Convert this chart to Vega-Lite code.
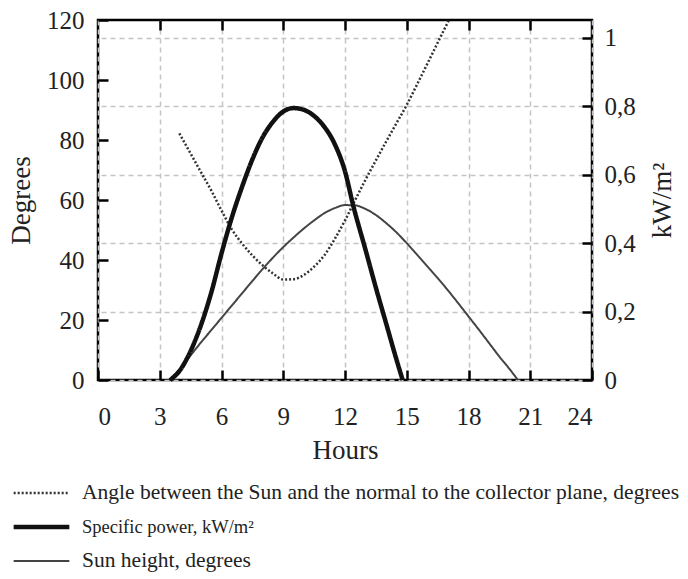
{
  "$schema": "https://vega.github.io/schema/vega-lite/v6.json",
  "autosize": "none",
  "width": 494,
  "height": 360,
  "padding": {"left": 98, "top": 20, "right": 96, "bottom": 199},
  "background": "white",
  "config": {
    "font": "Liberation Serif",
    "view": {"stroke": "black", "strokeWidth": 2.5},
    "axis": {
      "domain": false,
      "labelFont": "Liberation Serif",
      "titleFont": "Liberation Serif",
      "labelColor": "#222",
      "titleColor": "#222",
      "titleFontWeight": "normal",
      "labelFontSize": 25,
      "titleFontSize": 27,
      "tickColor": "black",
      "tickWidth": 2.5,
      "tickSize": -10,
      "gridColor": "#c4c4c4",
      "gridDash": [5, 4],
      "gridWidth": 1.5
    },
    "legend": {
      "labelFont": "Liberation Serif",
      "labelFontSize": 21.5,
      "labelColor": "#222"
    }
  },
  "datasets": {
    "curves": [
      {"h": 3.95, "series": "Angle between the Sun and the normal to the collector plane, degrees", "v": 82.2},
      {"h": 4.5, "series": "Angle between the Sun and the normal to the collector plane, degrees", "v": 75.5},
      {"h": 5.0, "series": "Angle between the Sun and the normal to the collector plane, degrees", "v": 69.3},
      {"h": 5.5, "series": "Angle between the Sun and the normal to the collector plane, degrees", "v": 63.2},
      {"h": 6.0, "series": "Angle between the Sun and the normal to the collector plane, degrees", "v": 56.5},
      {"h": 6.5, "series": "Angle between the Sun and the normal to the collector plane, degrees", "v": 50.2},
      {"h": 7.0, "series": "Angle between the Sun and the normal to the collector plane, degrees", "v": 45.5},
      {"h": 7.5, "series": "Angle between the Sun and the normal to the collector plane, degrees", "v": 41.5},
      {"h": 8.0, "series": "Angle between the Sun and the normal to the collector plane, degrees", "v": 38.2},
      {"h": 8.5, "series": "Angle between the Sun and the normal to the collector plane, degrees", "v": 35.5},
      {"h": 9.0, "series": "Angle between the Sun and the normal to the collector plane, degrees", "v": 33.5},
      {"h": 9.5, "series": "Angle between the Sun and the normal to the collector plane, degrees", "v": 33.6},
      {"h": 10.0, "series": "Angle between the Sun and the normal to the collector plane, degrees", "v": 35.0},
      {"h": 10.5, "series": "Angle between the Sun and the normal to the collector plane, degrees", "v": 37.8},
      {"h": 11.0, "series": "Angle between the Sun and the normal to the collector plane, degrees", "v": 41.6},
      {"h": 11.5, "series": "Angle between the Sun and the normal to the collector plane, degrees", "v": 47.0},
      {"h": 12.0, "series": "Angle between the Sun and the normal to the collector plane, degrees", "v": 53.2},
      {"h": 12.5, "series": "Angle between the Sun and the normal to the collector plane, degrees", "v": 60.1},
      {"h": 13.0, "series": "Angle between the Sun and the normal to the collector plane, degrees", "v": 66.8},
      {"h": 13.5, "series": "Angle between the Sun and the normal to the collector plane, degrees", "v": 73.2},
      {"h": 14.0, "series": "Angle between the Sun and the normal to the collector plane, degrees", "v": 79.5},
      {"h": 14.5, "series": "Angle between the Sun and the normal to the collector plane, degrees", "v": 85.6},
      {"h": 15.0, "series": "Angle between the Sun and the normal to the collector plane, degrees", "v": 91.7},
      {"h": 15.5, "series": "Angle between the Sun and the normal to the collector plane, degrees", "v": 98.5},
      {"h": 16.0, "series": "Angle between the Sun and the normal to the collector plane, degrees", "v": 105.4},
      {"h": 16.5, "series": "Angle between the Sun and the normal to the collector plane, degrees", "v": 112.4},
      {"h": 17.05, "series": "Angle between the Sun and the normal to the collector plane, degrees", "v": 120.0},
      {"h": 3.5, "series": "Sun height, degrees", "v": 0},
      {"h": 4.0, "series": "Sun height, degrees", "v": 3.8},
      {"h": 4.5, "series": "Sun height, degrees", "v": 8.2},
      {"h": 5.0, "series": "Sun height, degrees", "v": 12.5},
      {"h": 5.5, "series": "Sun height, degrees", "v": 16.6},
      {"h": 6.0, "series": "Sun height, degrees", "v": 20.7},
      {"h": 6.5, "series": "Sun height, degrees", "v": 24.8},
      {"h": 7.0, "series": "Sun height, degrees", "v": 28.9},
      {"h": 7.5, "series": "Sun height, degrees", "v": 33.0},
      {"h": 8.0, "series": "Sun height, degrees", "v": 37.0},
      {"h": 8.5, "series": "Sun height, degrees", "v": 40.8},
      {"h": 9.0, "series": "Sun height, degrees", "v": 44.3},
      {"h": 9.5, "series": "Sun height, degrees", "v": 47.5},
      {"h": 10.0, "series": "Sun height, degrees", "v": 50.5},
      {"h": 10.5, "series": "Sun height, degrees", "v": 53.2},
      {"h": 11.0, "series": "Sun height, degrees", "v": 55.6},
      {"h": 11.5, "series": "Sun height, degrees", "v": 57.3},
      {"h": 12.0, "series": "Sun height, degrees", "v": 58.3},
      {"h": 12.5, "series": "Sun height, degrees", "v": 58.2},
      {"h": 13.0, "series": "Sun height, degrees", "v": 57.0},
      {"h": 13.5, "series": "Sun height, degrees", "v": 55.0},
      {"h": 14.0, "series": "Sun height, degrees", "v": 52.3},
      {"h": 14.5, "series": "Sun height, degrees", "v": 49.2},
      {"h": 15.0, "series": "Sun height, degrees", "v": 45.6},
      {"h": 15.5, "series": "Sun height, degrees", "v": 41.8},
      {"h": 16.0, "series": "Sun height, degrees", "v": 37.9},
      {"h": 16.5, "series": "Sun height, degrees", "v": 34.0},
      {"h": 17.0, "series": "Sun height, degrees", "v": 29.9},
      {"h": 17.5, "series": "Sun height, degrees", "v": 25.6},
      {"h": 18.0, "series": "Sun height, degrees", "v": 21.2},
      {"h": 18.5, "series": "Sun height, degrees", "v": 16.8},
      {"h": 19.0, "series": "Sun height, degrees", "v": 12.3},
      {"h": 19.5, "series": "Sun height, degrees", "v": 7.8},
      {"h": 20.0, "series": "Sun height, degrees", "v": 3.6},
      {"h": 20.4, "series": "Sun height, degrees", "v": 0},
      {"h": 3.5, "series": "Specific power, kW/m²", "v": 0},
      {"h": 4.0, "series": "Specific power, kW/m²", "v": 0.03},
      {"h": 4.5, "series": "Specific power, kW/m²", "v": 0.085},
      {"h": 5.0, "series": "Specific power, kW/m²", "v": 0.16},
      {"h": 5.5, "series": "Specific power, kW/m²", "v": 0.255},
      {"h": 6.0, "series": "Specific power, kW/m²", "v": 0.37},
      {"h": 6.5, "series": "Specific power, kW/m²", "v": 0.475},
      {"h": 7.0, "series": "Specific power, kW/m²", "v": 0.565},
      {"h": 7.5, "series": "Specific power, kW/m²", "v": 0.645},
      {"h": 8.0, "series": "Specific power, kW/m²", "v": 0.71},
      {"h": 8.5, "series": "Specific power, kW/m²", "v": 0.755},
      {"h": 9.0, "series": "Specific power, kW/m²", "v": 0.785},
      {"h": 9.5, "series": "Specific power, kW/m²", "v": 0.795},
      {"h": 10.0, "series": "Specific power, kW/m²", "v": 0.79},
      {"h": 10.5, "series": "Specific power, kW/m²", "v": 0.772},
      {"h": 11.0, "series": "Specific power, kW/m²", "v": 0.74},
      {"h": 11.5, "series": "Specific power, kW/m²", "v": 0.69},
      {"h": 12.0, "series": "Specific power, kW/m²", "v": 0.61},
      {"h": 12.4, "series": "Specific power, kW/m²", "v": 0.51},
      {"h": 13.0, "series": "Specific power, kW/m²", "v": 0.38},
      {"h": 13.5, "series": "Specific power, kW/m²", "v": 0.27},
      {"h": 14.0, "series": "Specific power, kW/m²", "v": 0.165},
      {"h": 14.5, "series": "Specific power, kW/m²", "v": 0.06},
      {"h": 14.8, "series": "Specific power, kW/m²", "v": 0}
    ]
  },
  "data": {"name": "curves"},
  "layer": [
    {
      "transform": [{"filter": {"field": "series", "oneOf": ["Angle between the Sun and the normal to the collector plane, degrees", "Sun height, degrees"]}}],
      "mark": {"type": "line", "interpolate": "monotone"},
      "encoding": {
        "x": {
          "field": "h", "type": "quantitative",
          "scale": {"domain": [0, 24], "nice": false, "zero": false},
          "axis": {"orient": "bottom", "values": [0, 3, 6, 9, 12, 15, 18, 21, 24], "grid": true, "title": "Hours", "labelFont": "Liberation Serif", "labelPadding": 34, "titlePadding": 8}
        },
        "y": {
          "field": "v", "type": "quantitative",
          "scale": {"domain": [0, 120], "nice": false},
          "axis": {"orient": "left", "values": [0, 20, 40, 60, 80, 100, 120], "grid": false, "title": "Degrees", "labelFont": "Liberation Serif", "labelPadding": 24, "titlePadding": 11}
        },
        "color": {
          "field": "series", "type": "nominal",
          "scale": {"domain": ["Angle between the Sun and the normal to the collector plane, degrees", "Specific power, kW/m²", "Sun height, degrees"], "range": ["#333333", "#111111", "#444444"]},
          "legend": {"orient": "none", "legendX": -87, "legendY": 462, "title": null, "symbolType": "stroke", "symbolSize": 3100, "clipHeight": 22, "labelLimit": 700, "rowPadding": 12, "labelOffset": 10, "padding": 0,
                     "encode": {"labels": {"update": {"fontSize": {"signal": "datum.label == 'Specific power, kW/m²' ? 18.5 : 21.5"}}}}}
        },
        "strokeDash": {
          "field": "series", "type": "nominal",
          "scale": {"domain": ["Angle between the Sun and the normal to the collector plane, degrees", "Specific power, kW/m²", "Sun height, degrees"], "range": [[2, 2], [1, 0], [1, 0]]}
        },
        "strokeWidth": {
          "field": "series", "type": "nominal",
          "scale": {"type": "ordinal", "domain": ["Angle between the Sun and the normal to the collector plane, degrees", "Specific power, kW/m²", "Sun height, degrees"], "range": [2.5, 4.5, 2]}
        }
      }
    },
    {
      "transform": [{"filter": {"field": "series", "equal": "Specific power, kW/m²"}}],
      "mark": {"type": "line", "interpolate": "monotone"},
      "encoding": {
        "x": {
          "field": "h", "type": "quantitative",
          "scale": {"domain": [0, 24], "nice": false, "zero": false},
          "axis": {"orient": "top", "values": [3, 6, 9, 12, 15, 18, 21], "grid": false, "labels": false, "title": null}
        },
        "y": {
          "field": "v", "type": "quantitative",
          "scale": {"domain": [0, 1.0526], "nice": false},
          "axis": {"orient": "right", "values": [0, 0.2, 0.4, 0.6, 0.8, 1], "grid": true, "title": "kW/m²", "titleAngle": 270, "labelFont": "Liberation Serif", "labelPadding": 22, "titlePadding": 41,
                   "labelExpr": "datum.value == 0 ? '0' : datum.value == 1 ? '1' : replace(format(datum.value, '.1f'), '.', ',')"}
        },
        "color": {
          "field": "series", "type": "nominal",
          "scale": {"domain": ["Angle between the Sun and the normal to the collector plane, degrees", "Specific power, kW/m²", "Sun height, degrees"], "range": ["#333333", "#111111", "#444444"]}
        },
        "strokeDash": {
          "field": "series", "type": "nominal",
          "scale": {"domain": ["Angle between the Sun and the normal to the collector plane, degrees", "Specific power, kW/m²", "Sun height, degrees"], "range": [[2, 2], [1, 0], [1, 0]]}
        },
        "strokeWidth": {
          "field": "series", "type": "nominal",
          "scale": {"type": "ordinal", "domain": ["Angle between the Sun and the normal to the collector plane, degrees", "Specific power, kW/m²", "Sun height, degrees"], "range": [2.5, 4.5, 2]}
        }
      }
    }
  ],
  "resolve": {"scale": {"y": "independent"}, "axis": {"y": "independent", "x": "independent"}}
}
